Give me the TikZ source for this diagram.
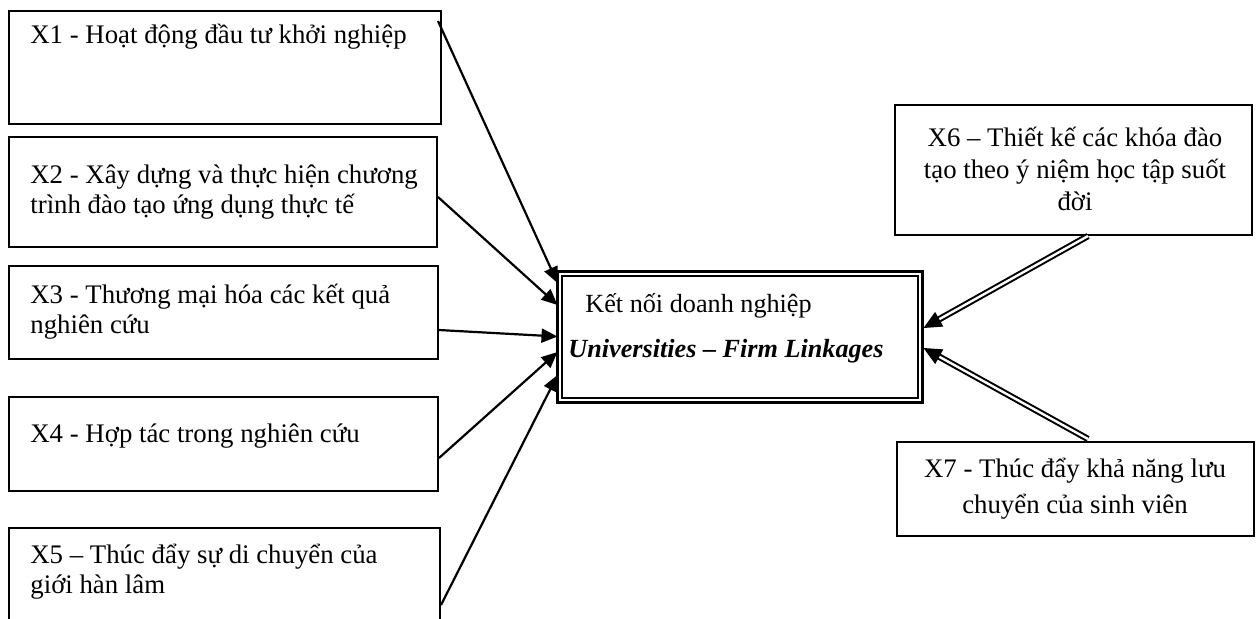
\documentclass[tikz,border=0pt]{standalone}
\usepackage{fontspec}
\setmainfont{Liberation Serif}
\usetikzlibrary{arrows.meta,calc,fit}
\begin{document}
\begin{tikzpicture}[x=0.5pt,y=-0.5pt,
  box/.style={draw,line width=1pt,inner sep=0pt},
  txt/.style={inner sep=0pt,font=\fontsize{13.4pt}{15pt}\selectfont},
  arr/.style={line width=1.1pt,-{Triangle[length=8pt,width=7pt]}},
  dbl/.style={double,line width=1pt,double distance=1.2pt,shorten >=8pt}]
\useasboundingbox (0,0) rectangle (1257,618);
\clip (0,0) rectangle (1257,618);
% left boxes
\node[box,fit={(9,11)(441,124)}] (X1) {};
\node[box,fit={(9,137)(437,247)}] (X2) {};
\node[box,fit={(9,266)(438,359)}] (X3) {};
\node[box,fit={(9,397)(438,491)}] (X4) {};
\node[box,fit={(9,528)(440,650)}] (X5) {};
\node[txt,anchor=base west] (t1) at (30,43) {X1 - Hoạt động đầu tư khởi nghiệp};
\node[txt,anchor=base west,align=left] (t2) at (30,213) {X2 - Xây dựng và thực hiện chương\\trình đào tạo ứng dụng thực tế};
\node[txt,anchor=base west,align=left] (t3) at (30,333) {X3 - Thương mại hóa các kết quả\\nghiên cứu};
\node[txt,anchor=base west] (t4) at (30,442) {X4 - Hợp tác trong nghiên cứu};
\node[txt,anchor=base west,align=left] (t5) at (30,593) {X5 – Thúc đẩy sự di chuyển của\\giới hàn lâm};
% right boxes
\node[box,fit={(895,105)(1252,235)}] (X6) {};
\node[box,fit={(897,442)(1254,536)}] (X7) {};
\node[txt,anchor=base,align=center,font=\fontsize{13.4pt}{16pt}\selectfont] (t6) at (1075,210) {X6 – Thiết kế các khóa đào\\tạo theo ý niệm học tập suốt\\đời};
\node[txt,anchor=base,align=center,font=\fontsize{13.4pt}{18pt}\selectfont] (t7) at (1075,513) {X7 - Thúc đẩy khả năng lưu\\chuyển của sinh viên};
% centre box
\node[fit={(557,271)(922,402)},draw,line width=1.5pt,inner sep=0pt] (C) {};
\draw[line width=1pt] ($(C.north west)+(6,6)$) rectangle ($(C.south east)+(-6,-6)$);
\node[txt,anchor=base west,font=\fontsize{13.1pt}{15pt}\selectfont] (c1) at (585,312) {Kết nối doanh nghiệp};
\node[txt,anchor=base west,font=\fontsize{13.1pt}{15pt}\selectfont] (c2) at (568,357) {\textbf{\textit{Universities – Firm Linkages}}};
% left arrows
\draw[arr] ($(X1.north east)+(-4,11)$) -- ($(C.west)+(2,-53.5)$);
\draw[arr] ($(X2.east)+(0,5)$) -- ($(C.west)+(2,-31.5)$);
\draw[arr] ($(X3.east)+(0,17.5)$) -- ($(C.west)+(2,0)$);
\draw[arr] ($(X4.east)+(0,14)$) -- ($(C.west)+(2,15.5)$);
\draw[arr] ($(X5.north east)+(0,78)$) -- ($(C.west)+(2,38.5)$);
% right double arrows
\coordinate (s6) at ($(X6.south east)+(-165,0)$);
\coordinate (e6) at ($(C.east)+(0,-8.5)$);
\coordinate (s7) at ($(X7.north east)+(-167,-2)$);
\coordinate (e7) at ($(C.east)+(0,11.5)$);
\draw[dbl] (s6) -- (e6);
\draw[dbl] (s7) -- (e7);
\coordinate (b6) at ($(e6)!9pt!(s6)$);
\coordinate (b7) at ($(e7)!9pt!(s7)$);
\fill (e6) -- ($(b6)!4.2pt!90:(e6)$) -- ($(b6)!4.2pt!-90:(e6)$) -- cycle;
\fill (e7) -- ($(b7)!4.2pt!90:(e7)$) -- ($(b7)!4.2pt!-90:(e7)$) -- cycle;
\end{tikzpicture}
\end{document}
